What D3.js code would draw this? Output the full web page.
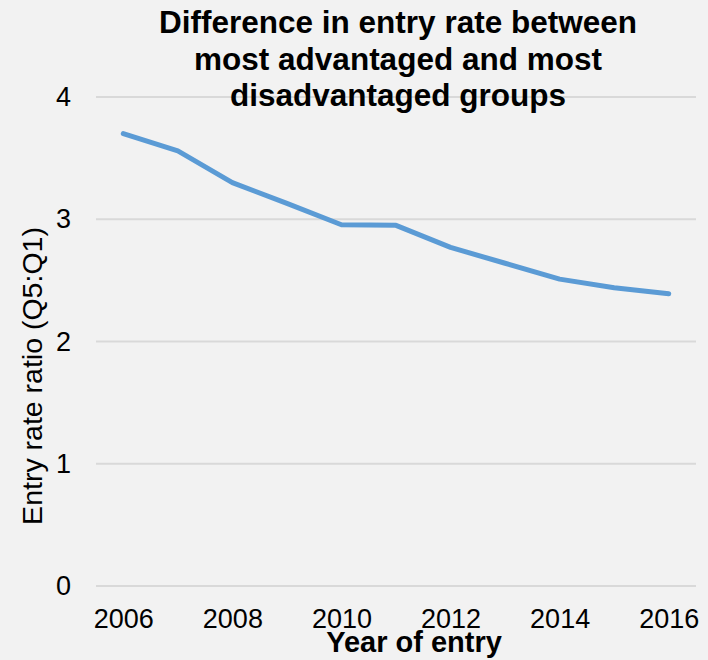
<!DOCTYPE html>
<html>
<head>
<meta charset="utf-8">
<script src="https://cdn.jsdelivr.net/npm/d3@7"></script>
<style>
    html, body { margin: 0; padding: 0; background: #f2f2f2; }
    svg { display: block; font-family: "Liberation Sans", Arial, sans-serif; }
</style>
</head>
<body>
<svg id="graph"></svg>
<script>
    var years = ["2006", "2007", "2008", "2009", "2010", "2011", "2012", "2013", "2014", "2015", "2016"];
    var ratios = [3.70, 3.56, 3.30, 3.13, 2.955, 2.95, 2.77, 2.64, 2.51, 2.44, 2.39];
    var yTicks = [0, 1, 2, 3, 4];
    var xTickLabels = ["2006", "2008", "2010", "2012", "2014", "2016"];
    var titleLines = ["Difference in entry rate between", "most advantaged and most", "disadvantaged groups"];

    var W = 708, H = 660;
    var margin = { top: 97, right: 12, bottom: 74, left: 96 },
        width = W - margin.left - margin.right,
        height = H - margin.top - margin.bottom;

    var svg = d3.select("#graph")
        .attr("width", W)
        .attr("height", H);

    svg.append("rect")
        .attr("width", W)
        .attr("height", H)
        .attr("fill", "#f2f2f2");

    var graph = svg.append("g")
        .attr("transform", "translate(" + margin.left + "," + margin.top + ")");

    // scales
    var x = d3.scalePoint().domain(years).range([0, width]).padding(0.5),
        y = d3.scaleLinear().domain([0, 4]).range([height, 0]);

    // gridlines
    graph.append("g")
        .selectAll("line")
        .data(yTicks)
        .enter().append("line")
        .attr("x1", 0)
        .attr("x2", width)
        .attr("y1", function (d) { return y(d); })
        .attr("y2", function (d) { return y(d); })
        .attr("stroke", "#d9d9d9")
        .attr("stroke-width", 2);

    // y axis
    var yAxis = graph.append("g")
        .call(d3.axisLeft(y).tickValues(yTicks).tickSize(0).tickPadding(25).tickFormat(d3.format("d")));
    yAxis.select(".domain").remove();
    yAxis.selectAll("text")
        .attr("font-size", 27)
        .attr("font-family", "Liberation Sans, Arial, sans-serif")
        .attr("fill", "#000");

    // x axis
    var xAxis = graph.append("g")
        .attr("transform", "translate(0," + height + ")")
        .call(d3.axisBottom(x).tickValues(xTickLabels).tickSize(0).tickPadding(23));
    xAxis.select(".domain").remove();
    xAxis.selectAll("text")
        .attr("font-size", 27)
        .attr("font-family", "Liberation Sans, Arial, sans-serif")
        .attr("fill", "#000");

    // line
    var line = d3.line()
        .x(function (d, i) { return x(years[i]); })
        .y(function (d) { return y(d); });

    graph.append("path")
        .datum(ratios)
        .attr("d", line)
        .attr("fill", "none")
        .attr("stroke", "#5b9bd5")
        .attr("stroke-width", 5)
        .attr("stroke-linecap", "round")
        .attr("stroke-linejoin", "round");

    // title
    svg.append("g")
        .selectAll("text")
        .data(titleLines)
        .enter().append("text")
        .attr("x", 398)
        .attr("y", function (d, i) { return 33 + i * 36.7; })
        .attr("text-anchor", "middle")
        .attr("font-size", 31.5)
        .attr("font-weight", "bold")
        .text(function (d) { return d; });

    // x label
    svg.append("text")
        .attr("x", 414)
        .attr("y", 652)
        .attr("text-anchor", "middle")
        .attr("font-size", 29)
        .attr("font-weight", "bold")
        .text("Year of entry");

    // y label
    svg.append("text")
        .attr("transform", "translate(42,376) rotate(-90)")
        .attr("text-anchor", "middle")
        .attr("font-size", 28.5)
        .text("Entry rate ratio (Q5:Q1)");
</script>
</body>
</html>
